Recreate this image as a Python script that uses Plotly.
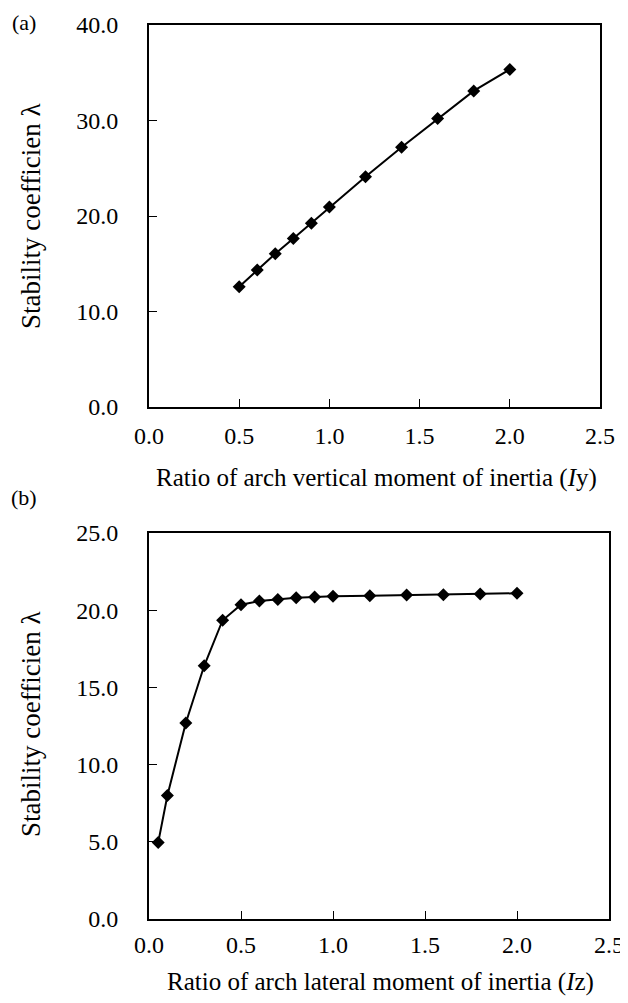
import plotly.graph_objects as go

# Panel (a): vertical moment of inertia ratio
iy_ratio = [0.5, 0.6, 0.7, 0.8, 0.9, 1.0, 1.2, 1.4, 1.6, 1.8, 2.0]
iy_lambda = [12.6, 14.35, 16.05, 17.65, 19.25, 20.95, 24.1, 27.2, 30.2, 33.1, 35.35]

# Panel (b): lateral moment of inertia ratio
iz_ratio = [0.05, 0.1, 0.2, 0.3, 0.4, 0.5, 0.6, 0.7, 0.8, 0.9, 1.0, 1.2, 1.4, 1.6, 1.8, 2.0]
iz_lambda = [4.95, 8.0, 12.7, 16.4, 19.35, 20.35, 20.6, 20.7, 20.8, 20.85, 20.9, 20.93, 20.98, 21.0, 21.05, 21.1]

x_ticks = [0.0, 0.5, 1.0, 1.5, 2.0, 2.5]
ya_ticks = [0.0, 10.0, 20.0, 30.0, 40.0]
yb_ticks = [0.0, 5.0, 10.0, 15.0, 20.0, 25.0]

# page body has an 8px margin, so the figure is laid out in shifted pixels
OFF = 8
W, H = 628 - OFF, 1003 - OFF
FONT = "Liberation Serif"

def px_x(p):
    return (p - OFF) / W

def px_y(p):
    return 1 - (p - OFF) / H

fig = go.Figure()
common = dict(mode="lines+markers", line=dict(color="black", width=2),
              marker=dict(symbol="diamond", size=10, color="black"), showlegend=False)
fig.add_trace(go.Scatter(x=iy_ratio, y=iy_lambda, xaxis="x", yaxis="y", **common))
fig.add_trace(go.Scatter(x=iz_ratio, y=iz_lambda, xaxis="x2", yaxis="y2", **common))

axis_style = dict(showline=True, linecolor="black", linewidth=2, mirror=True,
                  ticks="inside", ticklen=8, tickwidth=1, tickcolor="black",
                  showgrid=False, zeroline=False, automargin=False,
                  tickfont=dict(family=FONT, size=24, color="black"))

fig.update_layout(
    width=W, height=H,
    margin=dict(l=0, r=0, t=0, b=0),
    paper_bgcolor="white", plot_bgcolor="white",
    xaxis=dict(domain=[px_x(149), px_x(600)], range=[0, 2.5], tickvals=x_ticks,
               ticktext=[f"{v:.1f}" for v in x_ticks], anchor="y", ticklabelstandoff=6, **axis_style),
    yaxis=dict(domain=[px_y(407), px_y(25)], range=[0, 40], tickvals=ya_ticks,
               ticktext=[f"{v:.1f}" for v in ya_ticks], anchor="x", ticklabelstandoff=24, **axis_style),
    xaxis2=dict(domain=[px_x(149), px_x(609)], range=[0, 2.5], tickvals=x_ticks,
                ticktext=[f"{v:.1f}" for v in x_ticks], anchor="y2", ticklabelstandoff=3, **axis_style),
    yaxis2=dict(domain=[px_y(919), px_y(533)], range=[0, 25], tickvals=yb_ticks,
                ticktext=[f"{v:.1f}" for v in yb_ticks], anchor="x2", ticklabelstandoff=24, **axis_style),
)

lab_font = dict(family=FONT, size=22, color="black")
xt_font = dict(family=FONT, size=25, color="black")
yt_font = dict(family=FONT, size=27, color="black")
base = dict(xref="paper", yref="paper", showarrow=False, xanchor="center", yanchor="middle")
annotations = [
    dict(text="(a)", x=px_x(24), y=px_y(22), font=lab_font, **base),
    dict(text="(b)", x=px_x(24), y=px_y(497), font=lab_font, **base),
    dict(text="Ratio of arch vertical moment of inertia (<i>I</i>y)", x=px_x(376), y=px_y(478),
         font=xt_font, **base),
    dict(text="Ratio of arch lateral moment of inertia (<i>I</i>z)", x=px_x(380), y=px_y(982),
         font=xt_font, **base),
    dict(text="Stability coefficien λ", x=px_x(31), y=px_y(216), textangle=-90,
         font=yt_font, **base),
    dict(text="Stability coefficien λ", x=px_x(31), y=px_y(724), textangle=-90,
         font=yt_font, **base),
]
fig.update_layout(annotations=annotations)

fig.write_html("out.html")
